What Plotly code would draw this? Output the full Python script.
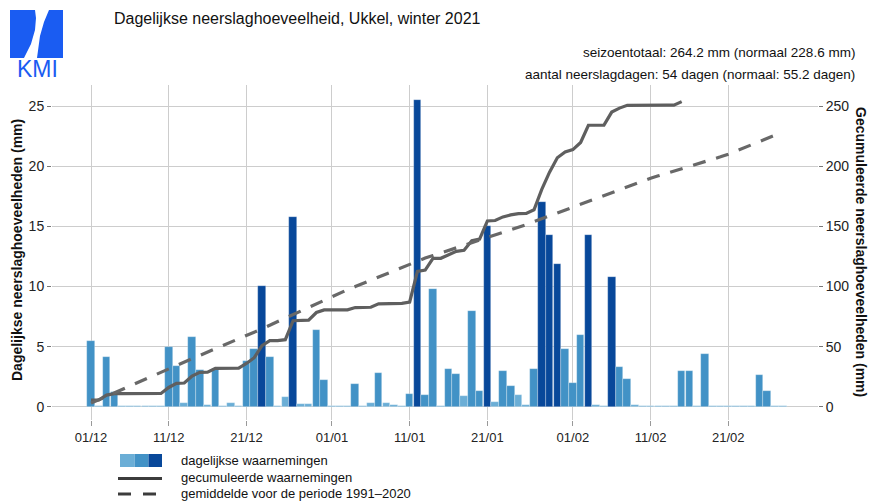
import numpy as np
import pandas as pd
import plotly.graph_objects as go

# ---------------- data ----------------
dates = pd.date_range("2020-12-01", "2021-02-28", freq="D")

daily_mm = [
    5.5, 0.1, 4.1, 1.25, 0, 0.1, 0, 0, 0, 0,                      # 01-10 Dec
    5.0, 3.4, 0.3, 5.8, 3.05, 0.15, 3.15, 0, 0.3, 0,              # 11-20 Dec
    3.8, 4.8, 10.05, 4.1, 0, 0.8, 15.8, 0.2, 0.2, 6.4, 2.2,       # 21-31 Dec
    0, 0, 0, 1.9, 0, 0.3, 2.8, 0.3, 0.15, 0,                      # 01-10 Jan
    1.1, 25.5, 1.0, 9.8, 0, 3.1, 2.75, 0.9, 8.0, 1.3,             # 11-20 Jan
    15.0, 0.4, 3.0, 1.7, 0.95, 0.15, 3.1, 17.0, 14.3, 11.9, 4.8,  # 21-31 Jan
    2.0, 6.0, 14.3, 0.15, 0, 10.8, 3.3, 2.3, 0.15, 0,             # 01-10 Feb
    0, 0, 0, 0, 2.95, 3.0, 0, 4.4, 0, 0,                          # 11-20 Feb
    0, 0, 0, 0, 2.6, 1.3, 0, 0,                                   # 21-28 Feb
]

normal_cum_mm = [
    3.0, 5.9, 8.8, 11.7, 14.6, 17.5, 20.4, 23.2, 26.1, 29.0,
    31.9, 34.6, 37.3, 40.0, 42.7, 45.4, 48.0, 50.7, 53.4, 56.1,
    58.8, 61.8, 64.8, 67.8, 70.8, 73.9, 76.9, 79.9, 82.9, 85.9, 88.9,
    91.9, 94.6, 97.3, 99.9, 102.6, 105.3, 108.0, 110.7, 113.4, 116.1,
    118.8, 121.5, 123.6, 125.7, 127.8, 130.0, 132.1, 134.2, 136.3, 138.4,
    140.5, 142.6, 144.8, 146.9, 149.0, 151.4, 153.9, 156.3, 158.7, 161.1, 163.6,
    166.0, 168.4, 170.9, 173.3, 175.8, 178.2, 180.6, 183.1, 185.5, 188.0,
    190.0, 192.0, 193.9, 195.9, 197.9, 199.9, 201.8, 203.8, 205.8, 207.8,
    210.0, 212.5, 215.0, 217.6, 220.2, 222.9, 225.7, 228.6,
]

cum_days_shown = 77  # the observed cumulative curve stops on 16/02 in the reference

tick_dates = ["2020-12-01", "2020-12-11", "2020-12-21", "2021-01-01", "2021-01-11",
              "2021-01-21", "2021-02-01", "2021-02-11", "2021-02-21"]
tick_labels = ["01/12", "11/12", "21/12", "01/01", "11/01", "21/01", "01/02", "11/02", "21/02"]

title_text = "Dagelijkse neerslaghoeveelheid, Ukkel, winter 2021"
sub1 = "seizoentotaal: 264.2 mm (normaal 228.6 mm)"
sub2 = "aantal neerslagdagen: 54 dagen (normaal: 55.2 dagen)"
legend_labels = ["dagelijkse waarnemingen", "gecumuleerde waarnemingen",
                 "gemiddelde voor de periode 1991\u20132020"]

# ---------------- styling ----------------
LIGHT, MID, DARK = "#6baed6", "#4292c6", "#08489a"
LINE_COL = "#5f5f5f"
GRID = "#cdcdcd"
FONT = "Liberation Sans, Arial, sans-serif"
W, H = 871, 504
L, R, T, B = 52, 53, 85, 84


def pxx(x):
    return (x - L) / (W - L - R)


def pyy(y):
    return (H - B - y) / (H - T - B)


daily = np.array(daily_mm, dtype=float)
colors = [LIGHT if v < 1 else (MID if v < 10 else DARK) for v in daily]
shown = np.maximum(daily, 0.08)
cum = np.cumsum(daily)

fig = go.Figure()
fig.add_trace(go.Bar(
    x=dates, y=shown, marker=dict(color=colors, line=dict(width=0.6, color="rgba(255,255,255,0.45)")),
    width=86400000 * 0.98, yaxis="y", showlegend=False, hoverinfo="skip"))
fig.add_trace(go.Scatter(
    x=dates[:cum_days_shown], y=cum[:cum_days_shown], mode="lines",
    line=dict(color=LINE_COL, width=3.2), yaxis="y2", showlegend=False))
fig.add_trace(go.Scatter(
    x=dates, y=normal_cum_mm, mode="lines",
    line=dict(color="#686868", width=3.2, dash="13px,11px"), yaxis="y2", showlegend=False))

shapes = []
# legend swatches
for (x0, x1), c in zip([(120, 134.5), (134.5, 148.5), (148.5, 162)], [LIGHT, MID, DARK]):
    shapes.append(dict(type="rect", xref="paper", yref="paper", x0=pxx(x0), x1=pxx(x1),
                       y0=pyy(467), y1=pyy(454), fillcolor=c, line=dict(width=0)))
shapes.append(dict(type="line", xref="paper", yref="paper", x0=pxx(118), x1=pxx(162),
                   y0=pyy(478.5), y1=pyy(478.5), line=dict(color="#3c3c3c", width=3)))
for x0, x1 in [(118, 131), (143, 156)]:
    shapes.append(dict(type="line", xref="paper", yref="paper", x0=pxx(x0), x1=pxx(x1),
                       y0=pyy(494), y1=pyy(494), line=dict(color="#3c3c3c", width=3)))
# KMI logo
BLUE = "#1a5cf2"
shapes.append(dict(type="rect", xref="paper", yref="paper", x0=pxx(10), x1=pxx(63),
                   y0=pyy(58), y1=pyy(10), fillcolor=BLUE, line=dict(width=0)))
pts = [(35, 10), (49, 10), (44, 22), (40, 36), (37, 58), (24, 58), (31, 44), (35, 30), (36, 18)]
path = "M " + " L ".join(f"{pxx(a):.5f},{pyy(b):.5f}" for a, b in pts) + " Z"
shapes.append(dict(type="path", xref="paper", yref="paper", path=path,
                   fillcolor="white", line=dict(width=0)))

ann = []
ann.append(dict(text=title_text, x=pxx(112), y=pyy(18), xref="paper", yref="paper",
                xanchor="left", yanchor="middle", showarrow=False,
                font=dict(size=16, color="#111", family=FONT)))
ann.append(dict(text=sub1, x=pxx(857), y=pyy(53), xref="paper", yref="paper",
                xanchor="right", yanchor="middle", showarrow=False,
                font=dict(size=13.5, color="#111", family=FONT)))
ann.append(dict(text=sub2, x=pxx(857), y=pyy(75), xref="paper", yref="paper",
                xanchor="right", yanchor="middle", showarrow=False,
                font=dict(size=13.5, color="#111", family=FONT)))
for lbl, yy in zip(legend_labels, [460.7, 477.3, 493.3]):
    ann.append(dict(text=lbl, x=pxx(179), y=pyy(yy), xref="paper", yref="paper",
                    xanchor="left", yanchor="middle", showarrow=False,
                    font=dict(size=13, color="#111", family=FONT)))
ann.append(dict(text="KMI", x=pxx(37), y=pyy(69), xref="paper", yref="paper",
                xanchor="center", yanchor="middle", showarrow=False,
                font=dict(size=23, color=BLUE, family=FONT)))
ann.append(dict(text="<b>Gecumuleerde neerslaghoeveelheden (mm)</b>", x=pxx(861), y=pyy(252),
                xref="paper", yref="paper", xanchor="center", yanchor="middle",
                textangle=90, showarrow=False, font=dict(size=14, color="#111", family=FONT)))
ann.append(dict(text="<b>Dagelijkse neerslaghoeveelheden (mm)</b>", x=pxx(17), y=pyy(250),
                xref="paper", yref="paper", xanchor="center", yanchor="middle",
                textangle=-90, showarrow=False, font=dict(size=14, color="#111", family=FONT)))

fig.update_layout(
    width=W, height=H, autosize=False,
    margin=dict(l=L, r=R, t=T, b=B),
    paper_bgcolor="white", plot_bgcolor="white",
    font=dict(family=FONT, color="#222"),
    bargap=0,
    xaxis=dict(type="date", range=["2020-11-25 23:30", "2021-03-04 13:00"],
               tickvals=tick_dates, ticktext=tick_labels, showgrid=True, gridcolor=GRID,
               gridwidth=1, ticks="outside", ticklen=5, tickcolor="#999",
               showline=False, zeroline=False, tickfont=dict(size=13, color="#222")),
    yaxis=dict(range=[-1.1, 26.75], tickvals=[0, 5, 10, 15, 20, 25], showgrid=True,
               gridcolor=GRID, gridwidth=1, ticks="outside", ticklen=4, tickcolor="#777",
               zeroline=False, showline=False, tickfont=dict(size=14, color="#222"),
               automargin=False),
    yaxis2=dict(range=[-11, 267.5], tickvals=[0, 50, 100, 150, 200, 250], overlaying="y",
                side="right", showgrid=False, ticks="outside", ticklen=4, tickcolor="#777",
                zeroline=False, showline=False, tickfont=dict(size=14, color="#222"),
                automargin=False),
    shapes=shapes, annotations=ann, showlegend=False,
)

fig.write_html("out.html", config={"displayModeBar": False},
               post_script="document.body.style.margin='0';document.body.style.overflow='hidden';")
